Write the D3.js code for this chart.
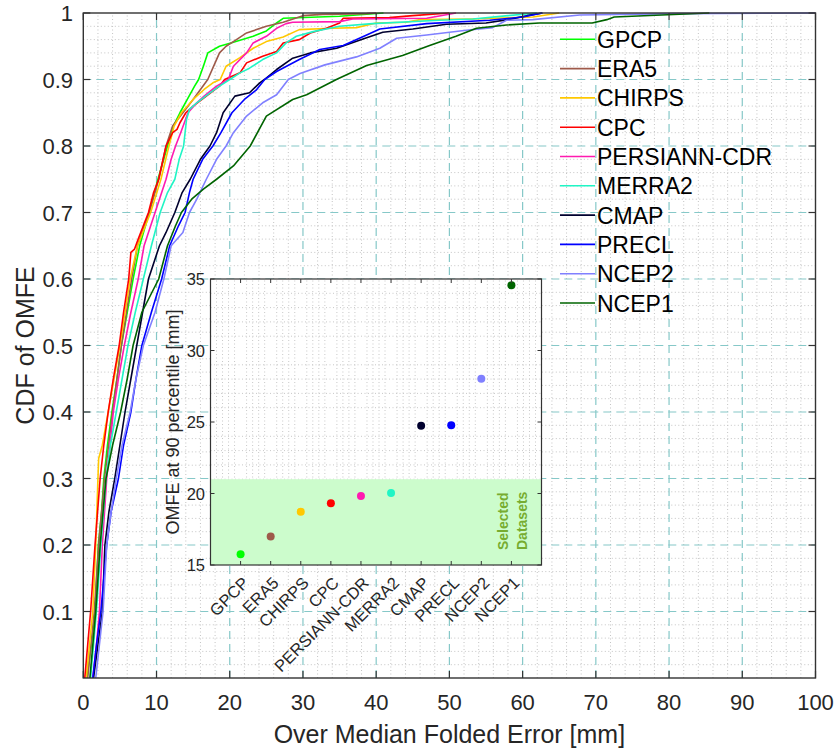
<!DOCTYPE html>
<html>
<head>
<meta charset="utf-8">
<script src="https://cdn.jsdelivr.net/npm/d3@7"></script>
<style>
    body { margin: 0; background: #fff; }
    svg { display: block; font-family: "Liberation Sans", Arial, Helvetica, sans-serif; }
</style>
</head>
<body>
<div id="chart"></div>
<script>
    // dataset names, in legend order
    const datasets = ["GPCP", "ERA5", "CHIRPS", "CPC", "PERSIANN-CDR", "MERRA2", "CMAP", "PRECL", "NCEP2", "NCEP1"];
    const colors = ["#00ff00", "#9e5a4a", "#ffc800", "#ff0000", "#ff1ab0", "#20f5c5", "#00002e", "#0000ff", "#8080ff", "#006400"];

    // CDF knots: [OMFE mm, cumulative fraction]
    const cdfGPCP = [[0.5,0],[1.1,0.05],[1.6,0.1],[2.05,0.2],[2.5,0.25],[2.8,0.3],[3.3,0.35],[3.9,0.4],[4.6,0.45],[5.2,0.5],[6.0,0.55],[6.8,0.6],[7.7,0.65],[9.0,0.7],[10.2,0.75],[11.5,0.8],[12.3,0.83],[13.2,0.85],[14.2,0.87],[15.2,0.89],[15.75,0.9],[16.4,0.92],[17.0,0.94],[18.6,0.95],[20.5,0.956],[23.2,0.965],[25,0.973],[26.4,0.985],[27.3,0.992],[35,0.995],[41,1]];
    const cdfERA5 = [[0.6,0],[1.5,0.1],[2.1,0.2],[2.9,0.3],[4.0,0.4],[5.2,0.5],[6.6,0.6],[7.4,0.65],[9.0,0.7],[10.3,0.75],[11.3,0.8],[12.2,0.83],[13.6,0.85],[15.0,0.87],[16.0,0.885],[17.0,0.9],[18.0,0.925],[18.6,0.94],[19.5,0.95],[20.5,0.957],[22.3,0.97],[25,0.98],[27.3,0.986],[30,0.996],[32.7,0.998],[38.7,0.999],[40,1]];
    const cdfCHIRPS = [[0.4,0],[1.3,0.1],[1.7,0.2],[2.0,0.3],[2.1,0.33],[2.6,0.35],[3.4,0.4],[4.2,0.45],[5.0,0.5],[5.7,0.55],[6.4,0.6],[7.4,0.65],[9.2,0.7],[10.6,0.75],[11.7,0.8],[12.4,0.83],[13.4,0.85],[15.0,0.87],[16.5,0.885],[17.7,0.895],[18.7,0.9],[19.5,0.92],[21.4,0.933],[23.2,0.947],[25,0.957],[27.3,0.964],[29.5,0.975],[34,0.977],[37.3,0.978],[40,0.985],[44.1,0.986],[46,0.99],[53.2,0.991],[61.4,0.994],[65,1]];
    const cdfCPC = [[0.2,0],[0.6,0.05],[1.0,0.1],[1.6,0.2],[2.3,0.3],[2.8,0.35],[3.4,0.4],[4.1,0.45],[4.9,0.5],[5.5,0.55],[6.2,0.6],[6.5,0.64],[7.0,0.645],[7.5,0.66],[8.2,0.68],[8.9,0.7],[9.6,0.73],[10.3,0.75],[11.3,0.8],[12.2,0.82],[12.8,0.825],[13.2,0.835],[14.0,0.85],[15.0,0.86],[16.8,0.875],[18.6,0.89],[19.3,0.9],[21.4,0.91],[22.3,0.925],[24.5,0.935],[26.4,0.942],[27.3,0.955],[29.5,0.96],[31,0.97],[33.2,0.977],[35,0.985],[35.5,0.992],[41.8,0.993],[45,0.996],[50,1]];
    const cdfPERSIANN = [[1.3,0],[1.8,0.05],[2.2,0.1],[2.6,0.2],[3.2,0.3],[4.1,0.4],[4.8,0.45],[5.6,0.5],[6.5,0.55],[7.5,0.6],[8.3,0.65],[9.8,0.7],[11.3,0.75],[12.0,0.78],[12.6,0.8],[13.3,0.82],[14.3,0.85],[15.5,0.865],[16.5,0.875],[18.2,0.89],[19.8,0.9],[20.5,0.92],[22.3,0.94],[23.2,0.955],[25,0.965],[26.4,0.977],[27.7,0.984],[28.6,0.986],[35,0.987],[36.8,0.991],[46.9,0.992],[50.9,1]];
    const cdfMERRA2 = [[1.0,0],[1.8,0.1],[2.4,0.2],[3.1,0.3],[3.7,0.35],[4.5,0.4],[5.3,0.45],[6.1,0.5],[7.1,0.55],[8.2,0.6],[9.3,0.65],[10.5,0.7],[11.5,0.73],[12.5,0.75],[13.1,0.78],[13.7,0.8],[14.1,0.84],[14.5,0.855],[15.5,0.865],[17.3,0.88],[18.6,0.89],[20.0,0.9],[21.4,0.91],[22.7,0.917],[24.5,0.93],[26.4,0.94],[27.7,0.955],[29.1,0.965],[31.4,0.972],[35,0.98],[39.5,0.984],[48.6,0.989],[53.2,0.991],[58,0.996],[62,1]];
    const cdfCMAP = [[1.4,0],[2.0,0.05],[2.6,0.1],[2.95,0.2],[3.5,0.25],[4.3,0.3],[5.0,0.35],[5.7,0.4],[6.5,0.45],[7.3,0.5],[8.1,0.55],[8.9,0.6],[10.4,0.65],[11.3,0.67],[12.5,0.7],[13.5,0.73],[14.6,0.75],[16.0,0.78],[17.3,0.8],[18.2,0.82],[19.1,0.85],[20.7,0.875],[22.7,0.88],[24.1,0.895],[24.74,0.9],[26.4,0.915],[28.6,0.932],[31,0.94],[34.6,0.947],[38.2,0.961],[40.9,0.971],[45,0.976],[49.6,0.983],[55,0.985],[58,0.99],[60.6,0.996],[62.7,1]];
    const cdfPRECL = [[1.3,0],[1.8,0.05],[2.4,0.1],[2.8,0.15],[3.2,0.2],[3.8,0.25],[4.8,0.3],[5.5,0.35],[6.5,0.4],[7.2,0.45],[8.0,0.5],[9.3,0.55],[10.7,0.6],[11.8,0.65],[13.0,0.68],[13.9,0.7],[14.5,0.73],[15.0,0.75],[16.3,0.78],[17.7,0.8],[18.8,0.82],[20.3,0.85],[22.0,0.87],[23.6,0.884],[24.77,0.9],[26.4,0.912],[29.5,0.93],[32.3,0.945],[35.5,0.951],[38.7,0.967],[40.5,0.976],[46.9,0.984],[55.5,0.989],[60,0.994],[62.7,1]];
    const cdfNCEP2 = [[1.7,0],[2.2,0.05],[2.7,0.1],[3.2,0.2],[3.8,0.25],[4.5,0.3],[5.3,0.35],[6.4,0.4],[7.2,0.45],[8.2,0.5],[9.8,0.55],[11.0,0.6],[12.0,0.65],[13.6,0.67],[14.5,0.7],[15.5,0.72],[16.8,0.75],[18.2,0.78],[19.5,0.8],[20.5,0.82],[22.3,0.845],[24.5,0.865],[26.4,0.877],[28.0,0.9],[29.6,0.909],[33,0.922],[37.3,0.934],[40.5,0.947],[42.8,0.962],[46.9,0.967],[52.3,0.974],[55.9,0.978],[57.8,0.989],[61.4,0.99],[67.8,0.997],[81,0.999],[100,1]];
    const cdfNCEP1 = [[0.9,0],[1.3,0.05],[1.7,0.1],[2.0,0.15],[2.3,0.2],[2.7,0.25],[3.1,0.3],[4.0,0.35],[5.1,0.4],[6.0,0.45],[6.8,0.5],[8.0,0.55],[10.3,0.6],[11.5,0.65],[12.6,0.68],[13.4,0.7],[14.8,0.72],[16.4,0.735],[18.2,0.75],[20.5,0.77],[22.8,0.8],[25,0.845],[28.6,0.87],[30.5,0.877],[33.7,0.895],[34.56,0.9],[38.7,0.921],[43.6,0.936],[47.3,0.951],[50.9,0.965],[53.7,0.977],[57.8,0.982],[62.3,0.985],[69.5,0.985],[71.5,0.99],[72.5,0.994],[85.5,1]];
    const cdfSeries = [cdfGPCP, cdfERA5, cdfCHIRPS, cdfCPC, cdfPERSIANN, cdfMERRA2, cdfCMAP, cdfPRECL, cdfNCEP2, cdfNCEP1];

    // inset: OMFE at the 90th percentile, mm
    const omfe90 = [15.75, 17.0, 18.73, 19.31, 19.83, 20.03, 24.74, 24.77, 28.03, 34.56];
    const selectedLimit = 21;

    const xTicks = d3.range(0, 101, 10);
    const yTicks = d3.range(1, 11).map(d => d / 10);
    const insetYTicks = [15, 20, 25, 30, 35];

    const W = 838, H = 749;
    const axisColor = "#333";
    const textColor = "#262626";

    const svg = d3.select("#chart").append("svg")
        .attr("width", W)
        .attr("height", H);

    svg.append("rect").attr("width", W).attr("height", H).attr("fill", "#fff");

    const x = d3.scaleLinear().domain([0, 100]).range([83.3, 815.5]);
    const y = d3.scaleLinear().domain([0, 1]).range([678, 13]);

    // minor grid
    const minorX = d3.range(0, 101, 2).filter(d => d % 10 !== 0);
    const minorY = d3.range(0, 51).map(d => d / 50).filter((d, i) => i % 5 !== 0);
    const grid = svg.append("g");
    grid.selectAll(".mx").data(minorX).enter().append("line")
        .attr("x1", d => x(d)).attr("x2", d => x(d))
        .attr("y1", y(0)).attr("y2", y(1))
        .attr("stroke", "#c4c4c4").attr("stroke-width", 1).attr("stroke-dasharray", "1,2.5");
    grid.selectAll(".my").data(minorY).enter().append("line")
        .attr("x1", x(0)).attr("x2", x(100))
        .attr("y1", d => y(d)).attr("y2", d => y(d))
        .attr("stroke", "#c4c4c4").attr("stroke-width", 1).attr("stroke-dasharray", "1,2.5");
    // major grid
    grid.selectAll(".gx").data(xTicks.slice(1, -1)).enter().append("line")
        .attr("x1", d => x(d)).attr("x2", d => x(d))
        .attr("y1", y(0)).attr("y2", y(1))
        .attr("stroke", "#86c8c8").attr("stroke-width", 1.2).attr("stroke-dasharray", "8,5");
    grid.selectAll(".gy").data(yTicks.slice(0, -1)).enter().append("line")
        .attr("x1", x(0)).attr("x2", x(100))
        .attr("y1", d => y(d)).attr("y2", d => y(d))
        .attr("stroke", "#86c8c8").attr("stroke-width", 1.2).attr("stroke-dasharray", "8,5");

    // CDF curves
    const line = d3.line().x(d => x(d[0])).y(d => y(d[1]));
    svg.append("g").selectAll("path")
        .data(cdfSeries)
        .enter().append("path")
        .attr("d", line)
        .attr("fill", "none")
        .attr("stroke", (d, i) => colors[i])
        .attr("stroke-width", 1.6)
        .attr("stroke-linejoin", "round");

    // box and ticks
    svg.append("rect")
        .attr("x", x(0)).attr("y", y(1))
        .attr("width", x(100) - x(0)).attr("height", y(0) - y(1))
        .attr("fill", "none").attr("stroke", axisColor).attr("stroke-width", 1.4);
    const ticks = svg.append("g").attr("stroke", axisColor).attr("stroke-width", 1.2);
    xTicks.forEach(d => {
        ticks.append("line").attr("x1", x(d)).attr("x2", x(d)).attr("y1", y(0)).attr("y2", y(0) - 7);
        ticks.append("line").attr("x1", x(d)).attr("x2", x(d)).attr("y1", y(1)).attr("y2", y(1) + 7);
    });
    yTicks.forEach(d => {
        ticks.append("line").attr("x1", x(0)).attr("x2", x(0) + 7).attr("y1", y(d)).attr("y2", y(d));
        ticks.append("line").attr("x1", x(100)).attr("x2", x(100) - 7).attr("y1", y(d)).attr("y2", y(d));
    });

    svg.append("g").selectAll("text").data(xTicks).enter().append("text")
        .attr("x", d => x(d)).attr("y", 710)
        .attr("text-anchor", "middle")
        .attr("font-size", 22).attr("fill", textColor)
        .text(d => d);
    svg.append("g").selectAll("text").data(yTicks).enter().append("text")
        .attr("x", 73).attr("y", d => y(d) + 8)
        .attr("text-anchor", "end")
        .attr("font-size", 22).attr("fill", textColor)
        .text(d => d3.format("~g")(d));

    svg.append("text")
        .attr("x", (x(0) + x(100)) / 2).attr("y", 743)
        .attr("text-anchor", "middle")
        .attr("font-size", 25).attr("fill", textColor)
        .text("Over Median Folded Error [mm]");
    svg.append("text")
        .attr("transform", `translate(34,${(y(0) + y(1)) / 2}) rotate(-90)`)
        .attr("text-anchor", "middle")
        .attr("font-size", 25).attr("fill", textColor)
        .text("CDF of OMFE");

    // legend
    const legend = svg.append("g").selectAll("g")
        .data(datasets)
        .enter().append("g")
        .attr("transform", (d, i) => `translate(560,${39.3 + i * 29.3})`);
    legend.append("line")
        .attr("x1", 0).attr("x2", 35)
        .attr("stroke", (d, i) => colors[i]).attr("stroke-width", 1.6);
    legend.append("text")
        .attr("x", 37).attr("y", 8.5)
        .attr("font-size", 23).attr("fill", "#000")
        .text(d => d);

    // inset
    const ix = d3.scaleLinear().domain([0, 11]).range([210.5, 541.5]);
    const iy = d3.scaleLinear().domain([15, 35]).range([565, 279]);
    const inset = svg.append("g");

    inset.append("rect")
        .attr("x", ix(0)).attr("y", iy(35))
        .attr("width", ix(11) - ix(0)).attr("height", iy(15) - iy(35))
        .attr("fill", "#fff");

    const iMinorX = d3.range(1, 55).map(d => d / 5).filter((d, i) => (i + 1) % 5 !== 0);
    const iMinorY = d3.range(16, 35).filter(d => d % 5 !== 0);
    inset.selectAll(".imx").data(iMinorX).enter().append("line")
        .attr("x1", d => ix(d)).attr("x2", d => ix(d))
        .attr("y1", iy(15)).attr("y2", iy(35))
        .attr("stroke", "#c8c8c8").attr("stroke-width", 1).attr("stroke-dasharray", "1,2.5");
    inset.selectAll(".imy").data(iMinorY).enter().append("line")
        .attr("x1", ix(0)).attr("x2", ix(11))
        .attr("y1", d => iy(d)).attr("y2", d => iy(d))
        .attr("stroke", "#c8c8c8").attr("stroke-width", 1).attr("stroke-dasharray", "1,2.5");

    inset.append("rect")
        .attr("x", ix(0)).attr("y", iy(selectedLimit))
        .attr("width", ix(11) - ix(0)).attr("height", iy(15) - iy(selectedLimit))
        .attr("fill", "#ccfccc");

    inset.selectAll("circle").data(omfe90).enter().append("circle")
        .attr("cx", (d, i) => ix(i + 1)).attr("cy", d => iy(d))
        .attr("r", 4)
        .attr("fill", (d, i) => colors[i]);

    inset.append("rect")
        .attr("x", ix(0)).attr("y", iy(35))
        .attr("width", ix(11) - ix(0)).attr("height", iy(15) - iy(35))
        .attr("fill", "none").attr("stroke", axisColor).attr("stroke-width", 1.2);
    const iticks = inset.append("g").attr("stroke", axisColor).attr("stroke-width", 1);
    datasets.forEach((d, i) => {
        iticks.append("line").attr("x1", ix(i + 1)).attr("x2", ix(i + 1)).attr("y1", iy(15)).attr("y2", iy(15) - 4);
        iticks.append("line").attr("x1", ix(i + 1)).attr("x2", ix(i + 1)).attr("y1", iy(35)).attr("y2", iy(35) + 4);
    });
    insetYTicks.forEach(d => {
        iticks.append("line").attr("x1", ix(0)).attr("x2", ix(0) + 4).attr("y1", iy(d)).attr("y2", iy(d));
        iticks.append("line").attr("x1", ix(11)).attr("x2", ix(11) - 4).attr("y1", iy(d)).attr("y2", iy(d));
    });

    inset.append("g").selectAll("text").data(insetYTicks).enter().append("text")
        .attr("x", 205).attr("y", d => iy(d) + 6)
        .attr("text-anchor", "end")
        .attr("font-size", 16.5).attr("fill", textColor)
        .text(d => d);
    inset.append("g").selectAll("text").data(datasets).enter().append("text")
        .attr("transform", (d, i) => `translate(${ix(i + 1) + 5},580) rotate(-45)`)
        .attr("text-anchor", "end")
        .attr("dy", "0.35em")
        .attr("font-size", 16.5).attr("fill", textColor)
        .text(d => d);
    inset.append("text")
        .attr("transform", `translate(179,${(iy(15) + iy(35)) / 2}) rotate(-90)`)
        .attr("text-anchor", "middle")
        .attr("font-size", 18).attr("fill", textColor)
        .text("OMFE at 90 percentile [mm]");

    ["Selected", "Datasets"].forEach((t, i) => {
        inset.append("text")
            .attr("transform", `translate(${508 + i * 19},550) rotate(-90)`)
            .attr("font-size", 14).attr("font-weight", "bold")
            .attr("fill", "#77ac30")
            .text(t);
    });
</script>
</body>
</html>
